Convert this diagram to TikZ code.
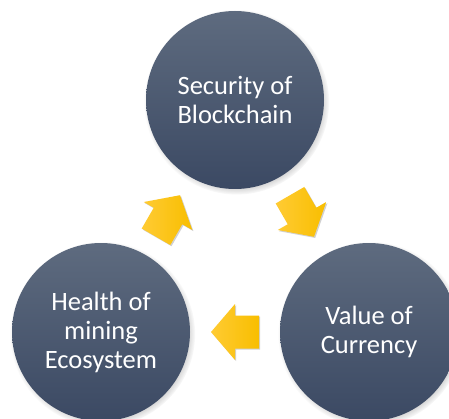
\documentclass[tikz,border=0pt]{standalone}
\usepackage{fontspec}
\setmainfont{Carlito}
\usetikzlibrary{calc,shadows,shadows.blur}
\definecolor{circtop}{HTML}{5E6B7F}
\definecolor{circbot}{HTML}{3B4963}
\definecolor{arrlight}{HTML}{FFCB33}
\definecolor{arrdark}{HTML}{F8BE00}
\tikzset{
  cyclenode/.style={circle, minimum size=178pt, inner sep=0pt, text=white,
    align=center, top color=circtop, bottom color=circbot,
    font=\fontsize{26.5}{29}\selectfont,
    circular drop shadow={shadow xshift=1.5pt, shadow yshift=-2pt,
      shadow scale=1.04, opacity=0.45, fill=black!70}},
  arrowfill/.style={left color=arrlight, right color=arrdark, draw=none,
    drop shadow={shadow xshift=1.2pt, shadow yshift=-1.2pt, opacity=0.18, fill=black}},
  pics/blockarrow/.style={code={
    \path[arrowfill] (-24pt,16.5pt) -- (0pt,16.5pt) -- (0pt,28pt) -- (24pt,0pt)
      -- (0pt,-28pt) -- (0pt,-16.5pt) -- (-24pt,-16.5pt) -- cycle;}}
}
\begin{document}
\begin{tikzpicture}[x=1pt,y=1pt]
\useasboundingbox[fill=white] (0,0) rectangle (449,418);
\node[cyclenode] (top) at (235,318) {Security of\\Blockchain};
\node[cyclenode] (right) at (369,86) {Value of\\Currency};
\node[cyclenode] (left) at (101,86) {Health of\\mining\\Ecosystem};
\pic[rotate=-60] (a1) at ($(top)!0.5!(right)$) {blockarrow};
\pic[rotate=180] (a2) at ($(right)!0.5!(left)$) {blockarrow};
\pic[rotate=60] (a3) at ($(left)!0.5!(top)$) {blockarrow};
\end{tikzpicture}
\end{document}
